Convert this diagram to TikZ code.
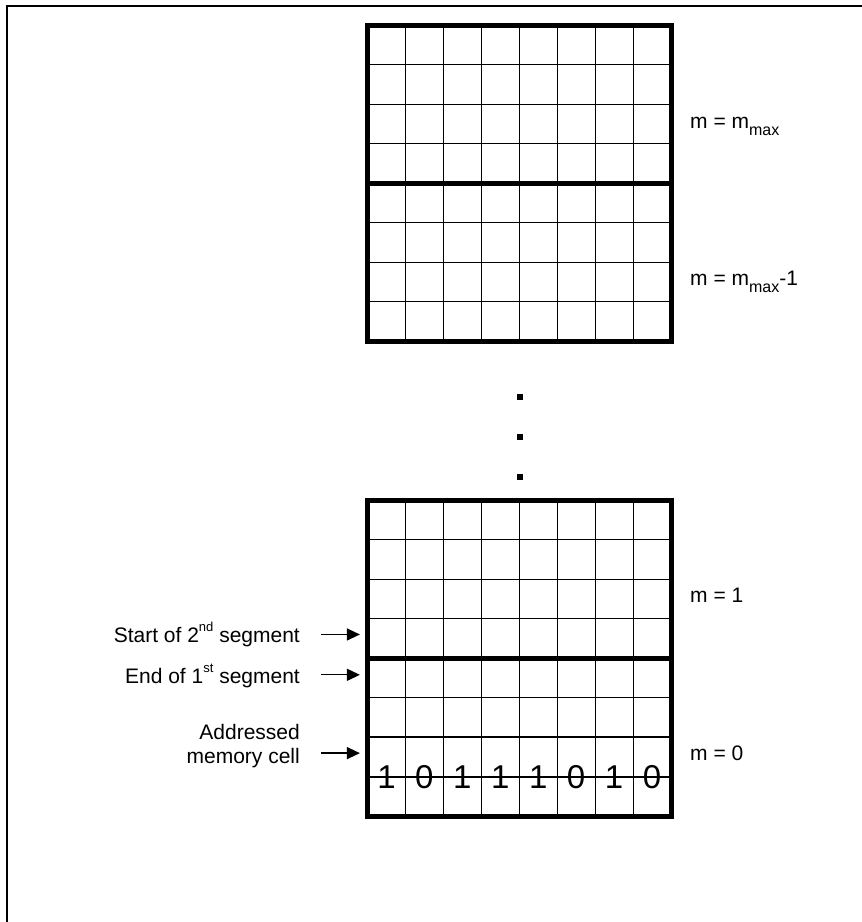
\documentclass[tikz,border=0pt]{standalone}
\usepackage{fontspec}
\setmainfont{Liberation Sans}
\usetikzlibrary{positioning, arrows.meta}

\newcommand{\supt}[1]{\raisebox{11pt}{\fontsize{13}{13}\selectfont #1}}
\newcommand{\subt}[1]{\raisebox{-7pt}{\fontsize{16}{16}\selectfont #1}}

\begin{document}
\begin{tikzpicture}[
    x=1pt, y=-1pt,
    cellgrid/.style={line width=0.8pt, black},
    segline/.style={line width=5pt},
    cellline/.style={line width=2pt},
    border/.style={line width=5pt, line join=miter},
    framelines/.style={line width=2pt, line join=miter},
    txt/.style={inner sep=0pt, font=\fontsize{21}{24}\selectfont},
    bit/.style={inner sep=0pt, font=\fontsize{33}{33}\selectfont},
    dotsq/.style={rectangle, fill=black, minimum size=6pt, inner sep=0pt},
    pointer/.style={-{Triangle[length=13pt, width=12pt]}, line width=1.3pt}
]
    \useasboundingbox (0,0) rectangle (862,922);

    % Frame
    \draw[framelines] (7,922) -- (7,6) -- (862,6);

    % Upper memory block (m = m_max, m = m_max-1)
    \begin{scope}[shift={(367.5,25)}, x=37.94pt, y=-39.55pt]
        \foreach \c in {1,...,7}
            \draw[cellgrid] (\c,0) -- (\c,8);
        \foreach \r in {1,2,3,5,6,7}
            \draw[cellgrid] (0,\r) -- (8,\r);
        \draw[segline] (0,4) -- (8,4);
        \draw[border] (0,0) rectangle (8,8);
    \end{scope}

    % Lower memory block (m = 1, m = 0)
    \begin{scope}[shift={(367.5,500)}, x=37.94pt, y=-39.55pt]
        \foreach \c in {1,...,7}
            \draw[cellgrid] (\c,0) -- (\c,8);
        \foreach \r in {1,2,3,5}
            \draw[cellgrid] (0,\r) -- (8,\r);
        \draw[cellline] (0,6) -- (8,6);
        \draw[cellline] (0,7) -- (8,7);
        \draw[segline] (0,4) -- (8,4);
        \draw[border] (0,0) rectangle (8,8);
        \foreach \b [count=\i from 0] in {1,0,1,1,1,0,1,0}
            \node[bit] (bit\i) at (\i+0.5,7) {\b};
        \coordinate (start2 tip) at (-0.2,3.4);
        \coordinate (end1 tip)   at (-0.2,4.42);
        \coordinate (addr tip)   at (-0.2,6.4);
    \end{scope}

    % Dots between the blocks
    \foreach \k in {1,2,3}
        \node[dotsq] (dot\k) at (520,356.7+40*\k) {};

    % Segment labels
    \node[txt, anchor=base west] (mmax)  at (690,128) {m = m\subt{max}};
    \node[txt, anchor=base west] (mmax1) at (690,285) {m = m\subt{max}-1};
    \node[txt, anchor=base west] (mone)  at (690,602.3) {m = 1};
    \node[txt, anchor=base west] (mzero) at (690,760) {m = 0};

    % Pointers
    \node[txt, anchor=base east] (start2) at (300,642.7) {Start of 2\supt{nd} segment};
    \node[txt, anchor=base east] (end1)   at (300,683.3) {End of 1\supt{st} segment};
    \node[txt, anchor=east, align=right] (addr) at (300,745.9) {Addressed\\memory cell};

    \coordinate (start2 tail) at (321,0 |- start2 tip);
    \coordinate (end1 tail)   at (321,0 |- end1 tip);
    \coordinate (addr tail)   at (321,0 |- addr tip);

    \draw[pointer] (start2 tail) -- (start2 tip);
    \draw[pointer] (end1 tail)   -- (end1 tip);
    \draw[pointer] (addr tail)   -- (addr tip);

\end{tikzpicture}
\end{document}
